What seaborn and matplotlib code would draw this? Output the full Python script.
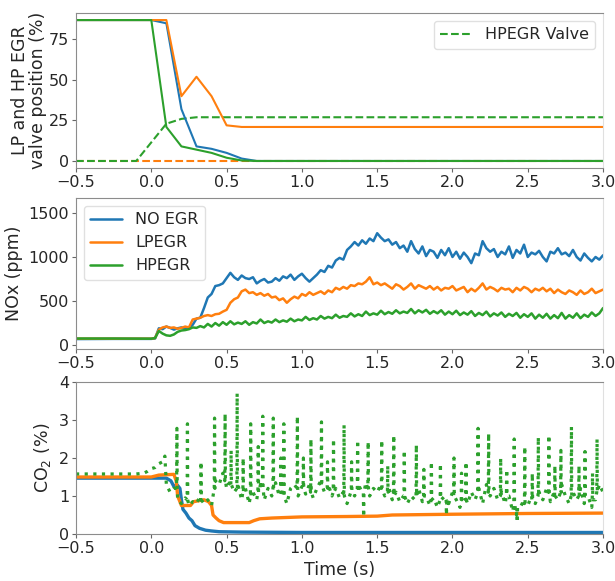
import numpy as np
import pandas as pd
import seaborn as sns
import matplotlib
matplotlib.use("Agg")
import matplotlib.pyplot as plt

sns.set_style("white", {"axes.edgecolor": "0.55", "xtick.bottom": True, "ytick.left": True})
plt.rcParams['font.family'] = ['DejaVu Sans']

BLUE, ORANGE, GREEN = "#1f77b4", "#ff7f0e", "#2ca02c"

# ---- valve positions (%), sampled every 0.1 s from -0.5 to 3.0 s ----
valve_time = np.round(np.arange(36) * 0.1 - 0.5, 2)
noegr_pos = [87] * 6 + [85, 32, 9, 7.5, 5, 1.5] + [0] * 24
lpegr_pos = [87] * 7 + [40, 52, 40, 22, 21] + [21] * 24
hpegr_pos = [87] * 6 + [21, 9, 7, 5, 2, 0.3] + [0] * 24
lpegr_valve = [0] * 36
hpegr_valve = [0] * 5 + [11.5, 23, 26, 27] + [27] * 27

# ---- NOx (ppm): two points before the step, then every 0.025 s from 0 to 3 s ----
nox_time = np.concatenate([[-0.5, -0.25], np.arange(121) * 0.025])
nox_noegr = [68, 70,
             70, 75, 190, 180, 210, 195, 175, 190,
             200, 185, 200, 230, 300, 310, 420, 540,
             580, 670, 680, 700, 760, 820, 770, 740,
             790, 760, 750, 770, 700, 730, 750, 710,
             720, 760, 730, 780, 760, 800, 740, 780,
             810, 760, 720, 760, 800, 850, 830, 900,
             880, 960, 990, 970, 1080, 1120, 1170, 1130,
             1190, 1150, 1210, 1180, 1270, 1220, 1180, 1200,
             1140, 1170, 1100, 1130, 1060, 1180, 1090, 1040,
             1120, 1010, 1080, 1060, 990, 1080, 1020, 1100,
             1000, 1060, 980, 1050, 1000, 930, 1040, 1020,
             1180, 1100, 1060, 1090, 1000, 1060, 1030, 1120,
             990, 1080, 1040, 1140, 1000, 1050, 1030, 1070,
             1000, 950, 1060, 1040, 1100, 1030, 1050, 1010,
             1080, 1000, 960, 1040, 990, 950, 1000, 970,
             1020]
nox_lpegr = [72, 72,
             72, 80, 175, 200, 210, 195, 200, 185,
             195, 210, 200, 290, 300, 310, 330, 340,
             330, 350, 355, 380, 400, 480, 520, 540,
             610, 630, 590, 600, 570, 590, 560, 580,
             540, 550, 510, 530, 480, 520, 550, 530,
             580, 560, 600, 570, 590, 610, 580, 620,
             600, 650, 630, 660, 640, 680, 670, 700,
             690, 720, 770, 690, 710, 680, 700, 670,
             640, 690, 670, 630, 660, 700, 640, 680,
             660, 640, 670, 630, 660, 620, 650, 640,
             670, 620, 640, 660, 600, 640, 610, 650,
             700, 630, 660, 640, 610, 650, 630, 640,
             600, 650, 620, 660, 640, 600, 640, 620,
             650, 610, 640, 590, 630, 600, 580, 620,
             600, 570, 620, 580, 600, 640, 590, 610,
             630]
nox_hpegr = [74, 74,
             72, 80, 160, 130, 110, 105, 120, 150,
             165, 170, 180, 200, 195, 215, 200, 240,
             210, 250, 220, 260, 230, 270, 235, 255,
             240, 270, 230, 260, 245, 290, 250, 270,
             255, 290, 260, 280, 265, 300, 270, 290,
             280, 320, 285, 305, 290, 330, 300, 320,
             305, 345, 310, 330, 320, 360, 325, 350,
             330, 380, 340, 360, 345, 390, 350, 375,
             355, 395, 360, 380, 365, 410, 360, 395,
             370, 400, 355, 385, 360, 395, 345, 380,
             350, 390, 340, 370, 345, 385, 330, 365,
             340, 380, 325, 360, 335, 370, 320, 355,
             330, 365, 310, 350, 320, 360, 300, 345,
             310, 355, 300, 340, 305, 365, 300, 340,
             310, 360, 305, 345, 320, 370, 330, 360,
             420]

# ---- CO2 (%) ----
co2_noegr_time = [-0.5, 0.1, 0.13, 0.15, 0.17, 0.19, 0.2, 0.21, 0.23, 0.25, 0.27,
                  0.29, 0.32, 0.36, 0.4, 0.45, 0.6, 1.0, 2.0, 3.0]
co2_noegr = [1.47, 1.47, 1.4, 1.25, 1.3, 1.2, 0.9, 0.65, 0.55, 0.42, 0.35,
             0.22, 0.15, 0.1, 0.08, 0.06, 0.05, 0.04, 0.04, 0.04]
co2_lpegr_time = [-0.5, 0.0, 0.05, 0.15, 0.165, 0.175, 0.19, 0.2, 0.26, 0.28, 0.35,
                  0.38, 0.4, 0.41, 0.43, 0.45, 0.48, 0.65, 0.68, 0.72, 0.8, 1.0,
                  1.3, 1.5, 1.6, 2.0, 2.5, 3.0]
co2_lpegr = [1.5, 1.5, 1.55, 1.57, 1.4, 1.0, 0.85, 0.75, 0.75, 0.85, 0.9,
             0.85, 0.75, 0.5, 0.42, 0.35, 0.3, 0.3, 0.35, 0.4, 0.42, 0.45,
             0.46, 0.47, 0.5, 0.52, 0.54, 0.55]
co2_hpegr_pre_time = [-0.5, -0.3, -0.1, -0.05, -0.025, 0.0, 0.025, 0.05, 0.075, 0.09]
co2_hpegr_pre = [1.58, 1.58, 1.58, 1.6, 1.65, 1.72, 1.75, 1.85, 1.9, 2.05]
co2_hpegr_grid = np.arange(117) * 0.025 + 0.1
co2_hpegr_base = [1.3, 1.1, 1.2, 0.9, 0.8, 0.95, 0.75, 0.85,
                  0.8, 1.0, 0.8, 0.9, 0.75, 1.4, 1.3, 1.6,
                  1.2, 1.4, 1.1, 1.3, 0.9, 1.2, 0.8, 1.1,
                  0.9, 1.3, 0.9, 1.2, 1.0, 1.35, 1.0, 1.1,
                  0.8, 1.2, 1.3, 1.0, 1.25, 1.05, 1.3, 0.95,
                  1.2, 1.4, 1.1, 1.3, 1.0, 1.2, 0.95, 1.1,
                  0.8, 1.1, 1.0, 1.3, 1.1, 1.35, 1.0, 1.2,
                  1.1, 1.3, 1.0, 1.25, 0.9, 1.1, 0.85, 1.0,
                  0.8, 1.0, 0.9, 1.2, 0.85, 1.0, 0.75, 0.95,
                  0.7, 0.9, 1.0, 0.8, 1.1, 0.9, 0.7, 1.0,
                  0.8, 1.1, 0.9, 1.2, 0.8, 1.3, 1.0, 1.2,
                  0.9, 1.1, 0.8, 1.0, 0.6, 0.5, 0.7, 0.9,
                  0.75, 1.0, 0.8, 1.1, 0.9, 1.2, 0.85, 1.1,
                  0.9, 1.3, 1.0, 0.8, 1.1, 0.9, 1.2, 0.8,
                  1.0, 0.7, 0.9, 1.3,
                  1.1]
# short spikes of the HPEGR CO2 trace: time, level at the foot, level at the tip
spike_time = [0.17, 0.24, 0.33, 0.42, 0.49, 0.53, 0.57, 0.61, 0.66, 0.71, 0.74,
              0.81, 0.86, 0.88, 0.97, 1.01, 1.06, 1.13, 1.17, 1.21, 1.28, 1.33,
              1.37, 1.41, 1.44, 1.53, 1.57, 1.61, 1.68, 1.76, 1.81, 1.86, 1.92,
              1.96, 2.01, 2.06, 2.09, 2.17, 2.24, 2.32, 2.36, 2.41, 2.43, 2.48,
              2.53, 2.57, 2.64, 2.68, 2.72, 2.79, 2.84, 2.88, 2.93, 2.96]
spike_foot = [1.2, 0.9, 0.9, 1.2, 1.4, 1.3, 1.2, 1.1, 1.0, 1.1, 1.2,
              1.2, 1.1, 1.0, 1.2, 1.2, 1.1, 1.3, 1.2, 1.1, 1.0, 1.1,
              1.2, 1.1, 1.2, 1.2, 1.1, 1.0, 1.0, 1.0, 1.0, 0.9, 0.9,
              0.9, 1.0, 0.9, 0.9, 1.1, 1.1, 1.0, 1.0, 0.8, 0.7, 0.8,
              0.9, 1.0, 1.1, 1.0, 1.1, 1.0, 1.0, 1.0, 0.9, 1.1]
spike_tip = [2.78, 2.9, 1.9, 3.05, 3.17, 2.2, 3.7, 2.0, 2.9, 2.3, 3.1,
             3.05, 2.0, 2.9, 3.1, 2.0, 2.5, 2.95, 1.9, 2.5, 2.87, 1.9,
             2.47, 0.45, 2.43, 2.47, 1.8, 2.6, 2.2, 2.35, 1.7, 1.9, 1.85,
             0.5, 2.0, 1.6, 1.9, 2.78, 2.65, 2.0, 1.7, 2.5, 0.3, 2.3,
             1.6, 2.55, 2.6, 1.8, 2.2, 2.82, 1.8, 2.17, 1.6, 2.5]

st = np.array(spike_time)
co2_green = pd.DataFrame({
    "t": np.concatenate([co2_hpegr_pre_time, co2_hpegr_grid,
                         st - 0.002, st, st + 0.002]),
    "v": np.concatenate([co2_hpegr_pre, co2_hpegr_base,
                         spike_foot, spike_tip, spike_foot]),
}).sort_values("t")

# ---- figure ----
fig = plt.figure(figsize=(6.15, 5.81), dpi=100)
ax1 = fig.add_axes([0.1236, 0.7108, 0.857, 0.2668])
ax2 = fig.add_axes([0.1236, 0.3993, 0.857, 0.2599])
ax3 = fig.add_axes([0.1236, 0.0809, 0.857, 0.2616])

# top: valve positions
sns.lineplot(x=valve_time, y=lpegr_valve, color=ORANGE, lw=1.5, linestyle="--", ax=ax1)
sns.lineplot(x=valve_time, y=hpegr_valve, color=GREEN, lw=1.5, linestyle="--",
             label="HPEGR Valve", ax=ax1)
sns.lineplot(x=valve_time, y=noegr_pos, color=BLUE, lw=1.5, ax=ax1)
sns.lineplot(x=valve_time, y=lpegr_pos, color=ORANGE, lw=1.5, ax=ax1)
sns.lineplot(x=valve_time, y=hpegr_pos, color=GREEN, lw=1.5, ax=ax1)
ax1.set_ylim(-4.35, 91.35)
ax1.set_yticks([0, 25, 50, 75])
ax1.set_ylabel("LP and HP EGR\nvalve position (%)", fontsize=12.5, linespacing=1.0,
               labelpad=1)
ax1.legend(loc="upper right", fontsize=11.5, handlelength=2.0, edgecolor="0.85")

# middle: NOx
sns.lineplot(x=nox_time, y=nox_noegr, color=BLUE, lw=1.8, label="NO EGR", ax=ax2)
sns.lineplot(x=nox_time, y=nox_lpegr, color=ORANGE, lw=1.8, label="LPEGR", ax=ax2)
sns.lineplot(x=nox_time, y=nox_hpegr, color=GREEN, lw=1.8, label="HPEGR", ax=ax2)
ax2.set_ylim(-45, 1670)
ax2.set_yticks([0, 500, 1000, 1500])
ax2.set_ylabel("NOx (ppm)", fontsize=12.5)
ax2.legend(loc="upper left", fontsize=11.5, edgecolor="0.85")

# bottom: CO2
sns.lineplot(x=co2_noegr_time, y=co2_noegr, color=BLUE, lw=2.4, ax=ax3)
sns.lineplot(x=co2_lpegr_time, y=co2_lpegr, color=ORANGE, lw=2.4, ax=ax3)
sns.lineplot(data=co2_green, x="t", y="v", color=GREEN, lw=2.3,
             linestyle=(0, (1.0, 1.7)), sort=False, estimator=None, ax=ax3)
ax3.set_ylim(0, 4)
ax3.set_yticks([0, 1, 2, 3, 4])
ax3.set_ylabel("CO$_2$ (%)", fontsize=12.5)
ax3.set_xlabel("Time (s)", fontsize=12.5)

for ax in (ax1, ax2, ax3):
    ax.set_xlim(-0.5, 3.0)
    ax.set_xticks([-0.5, 0.0, 0.5, 1.0, 1.5, 2.0, 2.5, 3.0])
    ax.tick_params(labelsize=11.5, length=3, width=0.8, color="0.4", pad=2)
    if ax is not ax3:
        ax.set_xlabel("")
    ax.spines["right"].set_color("0.88")

fig.savefig("out.png", dpi=100)
